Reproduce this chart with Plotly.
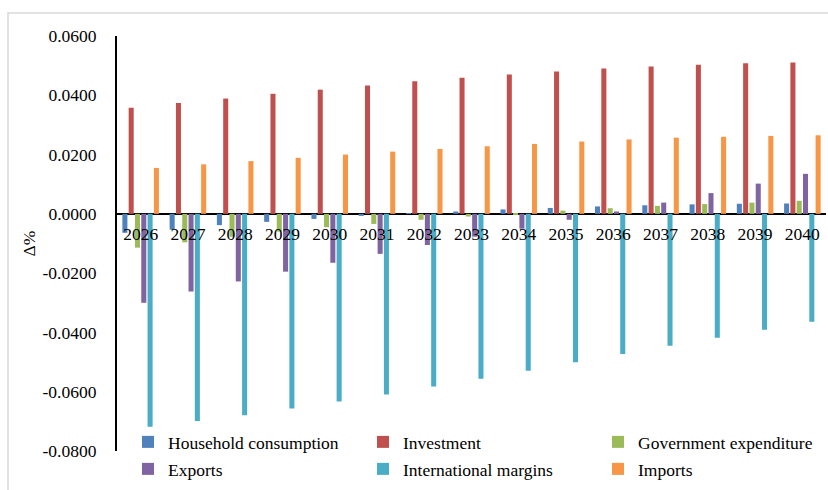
import plotly.graph_objects as go

years = [str(y) for y in range(2026, 2041)]

household = [-0.0064, -0.0053, -0.0038, -0.0027, -0.0017, -0.0007, 0.0001, 0.0008,
             0.0015, 0.0020, 0.0025, 0.0029, 0.0032, 0.0034, 0.0035]
investment = [0.0358, 0.0374, 0.0389, 0.0405, 0.0419, 0.0433, 0.0447, 0.0459,
              0.0470, 0.0480, 0.0490, 0.0497, 0.0503, 0.0508, 0.0511]
government = [-0.0114, -0.0096, -0.0077, -0.0060, -0.0045, -0.0034, -0.0020, -0.0009,
              -0.0001, 0.0011, 0.0019, 0.0027, 0.0033, 0.0038, 0.0044]
exports = [-0.0300, -0.0262, -0.0228, -0.0195, -0.0165, -0.0135, -0.0105, -0.0077,
           -0.0050, -0.0020, 0.0008, 0.0038, 0.0070, 0.0102, 0.0135]
intl_margins = [-0.0718, -0.0699, -0.0679, -0.0657, -0.0633, -0.0609, -0.0582, -0.0556,
                -0.0529, -0.0501, -0.0473, -0.0445, -0.0418, -0.0391, -0.0364]
imports = [0.0155, 0.0167, 0.0178, 0.0189, 0.0200, 0.0210, 0.0219, 0.0228,
           0.0236, 0.0244, 0.0251, 0.0257, 0.0260, 0.0263, 0.0265]

series_names = ["Household consumption", "Investment", "Government expenditure",
                "Exports", "International margins", "Imports"]
series_values = [household, investment, government, exports, intl_margins, imports]
series_colors = ["#4F81BD", "#C0504D", "#9BBB59", "#8064A2", "#4BACC6", "#F79646"]

y_tickvals = [-0.08, -0.06, -0.04, -0.02, 0.0, 0.02, 0.04, 0.06]
y_ticktext = ["-0.0800", "-0.0600", "-0.0400", "-0.0200", "0.0000", "0.0200", "0.0400", "0.0600"]

FONT = "Liberation Serif"
FS = 17.5
Y_MIN, Y_MAX = -0.08, 0.06

# plot area geometry in pixels
L, R, T, B = 117, 2, 36, 39
W, H = 828, 490
PW, PH = W - L - R, H - T - B


def px_x(px):
    return (px - L) / PW


def px_y(py):
    return (H - B - py) / PH


legend_ids = ["legend", "legend2", "legend3", "legend4", "legend5", "legend6"]
col_px = [128, 363, 598]
row_top_px = [424, 451]

fig = go.Figure()
for i, (name, vals, col) in enumerate(zip(series_names, series_values, series_colors)):
    fig.add_trace(go.Bar(x=years, y=vals, name=name, legend=legend_ids[i],
                         marker=dict(color=col, line=dict(width=0))))

legend_layout = {}
for i, lid in enumerate(legend_ids):
    legend_layout[lid] = dict(
        x=px_x(col_px[i % 3]), y=px_y(row_top_px[i // 3]),
        xanchor="left", yanchor="top", orientation="h",
        bgcolor="rgba(0,0,0,0)", borderwidth=0,
        font=dict(family=FONT, size=FS, color="black"),
    )

zero_pos = (0 - Y_MIN) / (Y_MAX - Y_MIN)

fig.update_layout(
    template="none",
    width=W, height=H,
    margin=dict(l=L, r=R, t=T, b=B, autoexpand=False),
    paper_bgcolor="white", plot_bgcolor="white",
    font=dict(family=FONT, size=FS, color="black"),
    barmode="group", bargap=0.2, bargroupgap=0.2,
    showlegend=True,
    xaxis=dict(type="category", range=[-0.5, 14.5], anchor="free", position=zero_pos,
               showline=False, showgrid=False, ticks="", zeroline=False,
               tickfont=dict(family=FONT, size=FS, color="black"),
               ticklabelstandoff=8),
    yaxis=dict(range=[Y_MIN, Y_MAX], tickvals=y_tickvals, ticktext=y_ticktext,
               showline=True, linecolor="black", linewidth=2, showgrid=False,
               zeroline=True, zerolinecolor="black", zerolinewidth=2.2,
               ticks="", ticklabelstandoff=15,
               tickfont=dict(family=FONT, size=FS, color="black"),
               title=dict(text="Δ%", standoff=2, font=dict(family=FONT, size=FS, color="black"))),
    shapes=[dict(type="rect", xref="paper", yref="paper",
                 x0=px_x(8), x1=px_x(840), y0=px_y(500), y1=px_y(13),
                 line=dict(color="#D9D9D9", width=1.5), fillcolor="rgba(0,0,0,0)", layer="below")],
    **legend_layout,
)

fig.write_html("out.html")
